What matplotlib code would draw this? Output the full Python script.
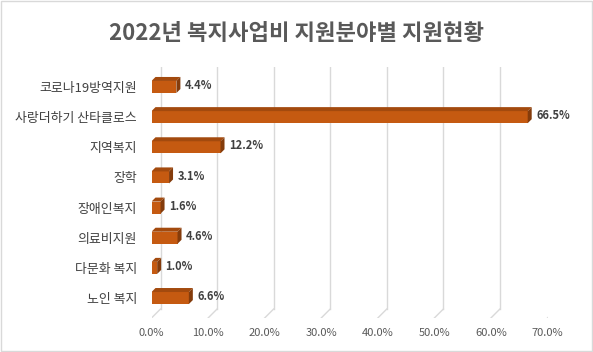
import matplotlib
matplotlib.use("Agg")
import matplotlib.pyplot as plt
from matplotlib.patches import Polygon, Rectangle
from matplotlib.lines import Line2D
from matplotlib.transforms import ScaledTranslation, IdentityTransform

plt.rcParams['font.family'] = ['Noto Sans CJK KR', 'DejaVu Sans']

categories = ["코로나19방역지원", "사랑더하기 산타클로스", "지역복지", "장학",
              "장애인복지", "의료비지원", "다문화 복지", "노인 복지"]
values = [4.4, 66.5, 12.2, 3.1, 1.6, 4.6, 1.0, 6.6]
xticks = [0, 10, 20, 30, 40, 50, 60, 70]
xtick_labels = ["0.0%", "10.0%", "20.0%", "30.0%", "40.0%", "50.0%", "60.0%", "70.0%"]
title = "2022년 복지사업비 지원분야별 지원현황"

W, H = 593, 352
fig = plt.figure(figsize=(W / 100, H / 100), dpi=100)
fig.patch.set_facecolor("white")

left, right, top, bottom = 151.5, 547.5, 67, 318
ax = fig.add_axes([left / W, 1 - bottom / H, (right - left) / W, (bottom - top) / H])
ax.set_xlim(0, 70)
ycenter0, ystep = 87, 30.15
ax.set_ylim((bottom - ycenter0) / ystep, -(ycenter0 - top) / ystep)
for s in ax.spines.values():
    s.set_visible(False)
ax.set_yticks(range(len(categories)))
ax.set_yticklabels(categories, fontsize=9.3, color="#404040")
ax.tick_params(axis="y", length=0, pad=10.5)
ax.set_xticks(xticks)
ax.set_xticklabels(xtick_labels, fontsize=8, color="#595959")
ax.tick_params(axis="x", length=0, pad=7.5)
ax.set_facecolor("none")

# back-plane gridlines with floor diagonal
dx, dy = 9, 9
off = ScaledTranslation(dx / 100, dy / 100, fig.dpi_scale_trans)
ylo, yhi = ax.get_ylim()
for v in xticks:
    ax.add_line(Line2D([v, v], [ylo, yhi], transform=ax.transData + off,
                       color="#D9D9D9", lw=1.0, zorder=0))
    p_front = ax.transData.transform((v, ylo))
    ax.add_line(Line2D([p_front[0], p_front[0] + dx], [p_front[1], p_front[1] + dy],
                       transform=IdentityTransform(), color="#D9D9D9", lw=1.0, zorder=0))

front_c = "#C55A11"
top_c = "#A34A0E"
side_c = "#843C0C"
bh = 0.4
depth = 4
bars = ax.barh(range(len(values)), values, height=bh, color=front_c, zorder=3)
for i, (b, v) in enumerate(zip(bars, values)):
    x0, x1 = 0, v
    yt = i - bh / 2
    yb = i + bh / 2
    p00 = ax.transData.transform((x0, yt))
    p10 = ax.transData.transform((x1, yt))
    p11 = ax.transData.transform((x1, yb))
    topf = [p00, p10, (p10[0] + depth, p10[1] + depth), (p00[0] + depth, p00[1] + depth)]
    sidef = [p10, (p10[0] + depth, p10[1] + depth), (p11[0] + depth, p11[1] + depth), p11]
    ax.add_patch(Polygon(topf, closed=True, transform=IdentityTransform(),
                         facecolor=top_c, edgecolor="none", zorder=4))
    ax.add_patch(Polygon(sidef, closed=True, transform=IdentityTransform(),
                         facecolor=side_c, edgecolor="none", zorder=4))
    ax.annotate(f"{v:.1f}%", xy=(v, i), xytext=(6.0, 1.0),
                textcoords="offset points", ha="left", va="center",
                fontsize=8, fontweight="bold", color="#404040", zorder=5)

fig.text(0.5, 1 - 34 / H, title, ha="center", va="center", fontsize=16,
         fontweight="bold", color="#595959")

fig.add_artist(Rectangle((0.5 / W, 1.5 / H), (W - 1.5) / W, (H - 2.5) / H,
                         transform=fig.transFigure, fill=False,
                         edgecolor="#D9D9D9", lw=1.0))

fig.savefig("out.png", dpi=100)
